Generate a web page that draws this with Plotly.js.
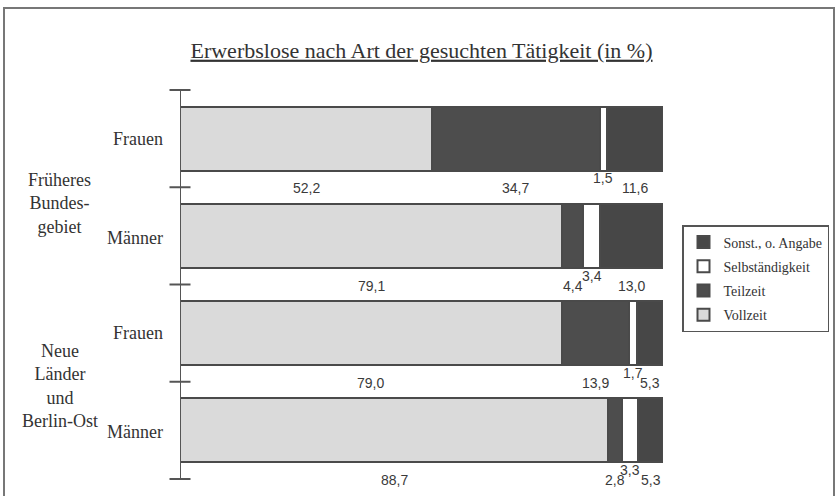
<!DOCTYPE html>
<html>
<head>
<meta charset="utf-8">
<script src="https://cdn.plot.ly/plotly-3.0.1.min.js"></script>
<style>html,body{margin:0;padding:0;background:#fff;}#chart{width:838px;height:496px;}</style>
</head>
<body>
<div id="chart"></div>
<script>
// ---- data ----
const rowLabels = ['Frauen', 'Männer', 'Frauen', 'Männer'];
const groupLabels = ['Früheres<br>Bundes-<br>gebiet', 'Neue<br>Länder<br>und<br>Berlin-Ost'];
const seriesNames = ['Vollzeit', 'Teilzeit', 'Selbständigkeit', 'Sonst., o. Angabe'];
const vollzeit = [52.2, 79.1, 79.0, 88.7];
const teilzeit = [34.7, 4.4, 13.9, 2.8];
const selbst = [1.5, 3.4, 1.7, 3.3];
const sonst = [11.6, 13.0, 5.3, 5.3];
const titleText = 'Erwerbslose nach Art der gesuchten Tätigkeit (in %)';

// ---- build ----
const nRows = rowLabels.length;
const yPos = rowLabels.map((_, i) => nRows - 1 - i);
const series = [vollzeit, teilzeit, selbst, sonst];
const fills = ['#dadada', '#4d4d4d', '#ffffff', '#474747'];
const lineCol = '#4a4a4a';

const traces = series.map((vals, k) => ({
  type: 'bar',
  orientation: 'h',
  name: seriesNames[k],
  x: vals,
  y: yPos,
  width: 0.66,
  legendgroup: 'g' + k,
  legendrank: 1000 + (series.length - k),
  marker: {color: fills[k], line: {color: lineCol, width: 2}},
  hoverinfo: 'x'
}));

// category axis with tick marks crossing it at the category boundaries
const boundaries = [];
for (let b = -0.5; b <= nRows - 0.5; b += 1) boundaries.push(b);
traces.push({
  type: 'scatter', mode: 'lines+markers',
  x: boundaries.map(() => 0), y: boundaries,
  line: {color: '#555', width: 2},
  marker: {symbol: 'line-ew', size: 15, line: {color: '#555', width: 2}},
  cliponaxis: false, showlegend: false, hoverinfo: 'skip'
});

const fmt = v => v.toFixed(1).replace('.', ',');
const serif = 'Liberation Serif, Times New Roman, serif';
const annotations = [];
for (let i = 0; i < nRows; i++) {
  let start = 0;
  series.forEach((vals, k) => {
    const v = vals[i];
    annotations.push({
      x: start + v / 2, y: yPos[i] - 0.5, xref: 'x', yref: 'y',
      text: fmt(v), showarrow: false,
      yshift: k === 2 ? 9 : -1,
      font: {family: 'Liberation Sans, Arial, sans-serif', size: 14, color: '#3a3a3a'}
    });
    start += v;
  });
  annotations.push({
    x: 165, xref: 'paper', xanchor: 'right', y: yPos[i], yref: 'y',
    yshift: i % 2 === 1 ? -2 : 0,
    text: rowLabels[i], showarrow: false,
    font: {family: serif, size: 18, color: '#333'}
  });
}
annotations.push({
  x: 59, xref: 'paper', xanchor: 'center', y: yPos[0] - 0.5, yref: 'y', yshift: -16,
  text: groupLabels[0], showarrow: false, align: 'center',
  font: {family: serif, size: 18, color: '#333'}
});
annotations.push({
  x: 60, xref: 'paper', xanchor: 'center', y: yPos[2] - 0.5, yref: 'y', yshift: -4,
  text: groupLabels[1], showarrow: false, align: 'center',
  font: {family: serif, size: 18, color: '#333'}
});

// plot area geometry (pixels)
const L = 180, R = 663, T = 90, B = 479;
const W = R - L, H = B - T;
const px = x => (x - L) / W;       // pixel x -> paper x
const py = y => (B - y) / H;       // pixel y -> paper y
annotations.forEach(a => { if (a.xref === 'paper') a.x = px(a.x); });

const layout = {
  width: 838, height: 496,
  margin: {l: L, r: 838 - R, t: T, b: 496 - B, pad: 0, autoexpand: false},
  paper_bgcolor: '#fff', plot_bgcolor: 'rgba(0,0,0,0)',
  barmode: 'stack',
  bargap: 0,
  showlegend: true,
  title: {
    text: '<u>' + titleText + '</u>',
    x: 0.5, xref: 'paper', xanchor: 'center',
    y: 1 - 50 / 496, yanchor: 'middle',
    font: {family: serif, size: 22, color: '#333'}
  },
  xaxis: {range: [0, 100], visible: false, fixedrange: true},
  yaxis: {range: [-0.5, nRows - 0.5], visible: false, fixedrange: true},
  legend: {
    x: px(682), xanchor: 'left',
    y: py(225), yanchor: 'top',
    traceorder: 'grouped', tracegroupgap: 3,
    bordercolor: '#555', borderwidth: 1.5, bgcolor: '#fff',
    font: {family: serif, size: 14, color: '#333'},
    itemwidth: 30
  },
  annotations: annotations,
  shapes: [{
    type: 'rect', xref: 'paper', yref: 'paper', layer: 'below',
    x0: px(4), x1: px(834), y0: py(505), y1: py(8),
    line: {color: '#777', width: 2}, fillcolor: 'rgba(0,0,0,0)'
  }]
};

Plotly.newPlot('chart', traces, layout, {displayModeBar: false, staticPlot: true});
</script>
</body>
</html>
